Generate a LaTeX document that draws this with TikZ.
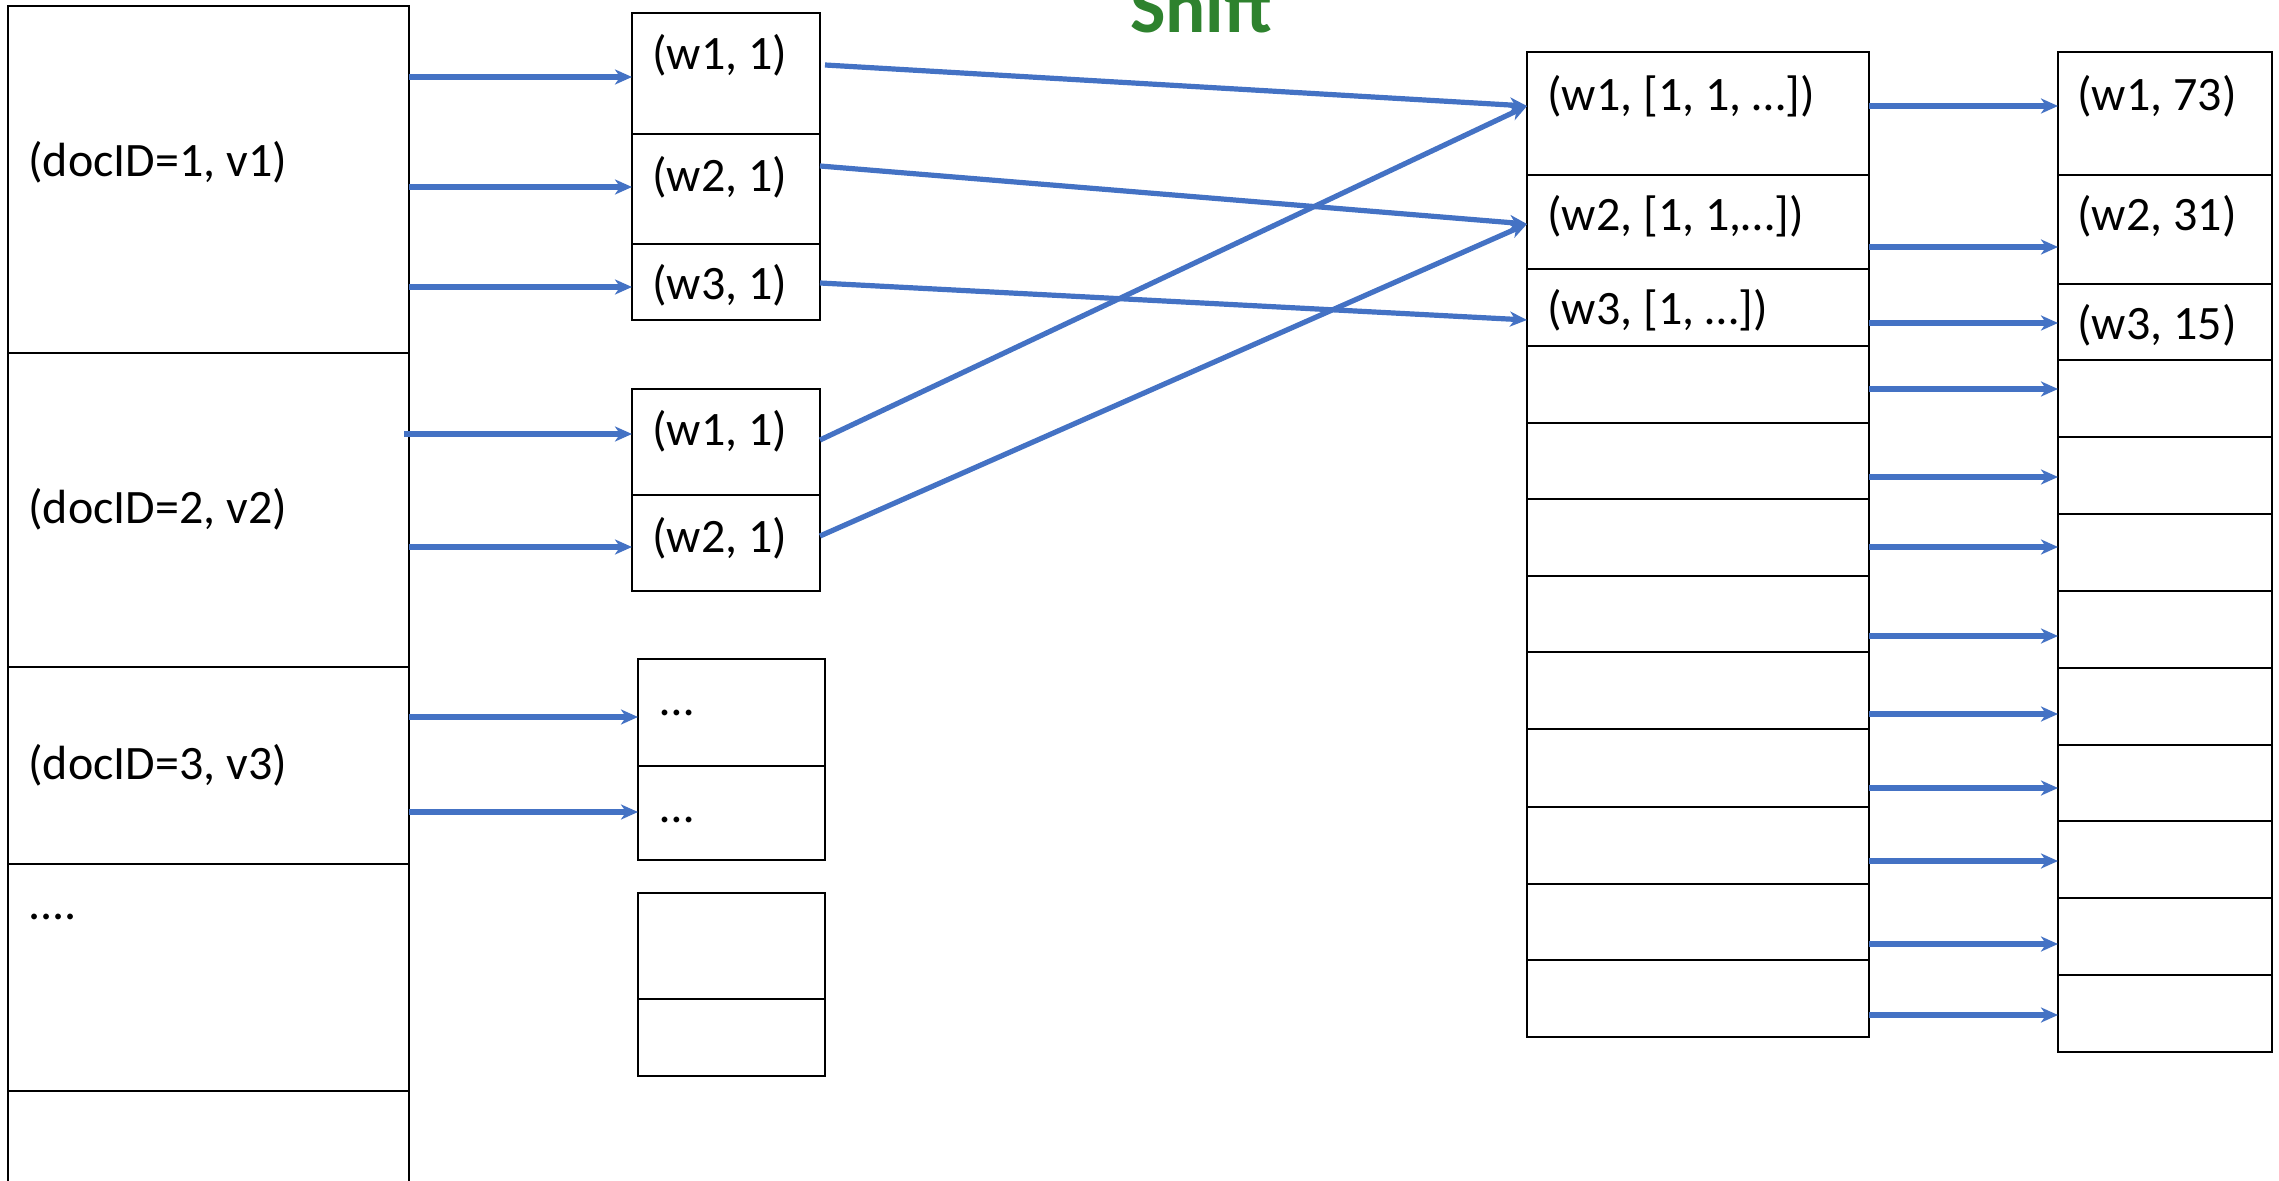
\documentclass[tikz,border=0pt]{standalone}
\usepackage{fontspec}
\setmainfont{Carlito}
\usetikzlibrary{arrows.meta,calc}
\definecolor{lineblue}{RGB}{68,114,196}
\definecolor{shiftgreen}{RGB}{46,130,46}
\tikzset{
  cellbox/.style={draw=black, line width=1.3pt, rectangle, inner sep=0pt, outer sep=0pt},
  celltext/.style={inner sep=0pt, anchor=west, font=\fontsize{24}{28}\selectfont},
  dotstext/.style={inner sep=0pt, anchor=base west, font=\fontsize{24}{28}\selectfont},
  arr/.style={draw=lineblue, line width=2.6pt, -{Stealth[length=8.5pt,width=7.5pt,inset=2.5pt]}},
  shiftlabel/.style={font=\fontsize{37.5}{42}\selectfont\bfseries, text=shiftgreen, inner sep=0pt, anchor=base},
}
\newcommand\mkcell[5]{\node[cellbox, minimum width={(#4-#2)*0.5pt}, minimum height={(#5-#3)*0.5pt}] (#1) at ({(#2+#4)/2},{(#3+#5)/2}) {};}
\begin{document}
\begin{tikzpicture}[x=0.5pt,y=-0.5pt]
\useasboundingbox (0,0) rectangle (2279,1181);
% left column
\mkcell{docA}{8}{6}{409}{353}
\mkcell{docB}{8}{353}{409}{667}
\mkcell{docC}{8}{667}{409}{864}
\mkcell{docD}{8}{864}{409}{1091}
\mkcell{docE}{8}{1091}{409}{1210}
\node[celltext] (tA) at (28,162) {(docID=1, v1)};
\node[celltext] (tB) at (28,509) {(docID=2, v2)};
\node[celltext] (tC) at (28,765) {(docID=3, v3)};
\node[dotstext] (tD) at (28,919) {....};
% group 1
\mkcell{g1a}{632}{13}{820}{134}
\mkcell{g1b}{632}{134}{820}{244}
\mkcell{g1c}{632}{244}{820}{320}
\node[celltext] (t1a) at (652,55) {(w1, 1)};
\node[celltext] (t1b) at (652,177) {(w2, 1)};
\node[celltext] (t1c) at (652,285) {(w3, 1)};
% group 2
\mkcell{g2a}{632}{389}{820}{495}
\mkcell{g2b}{632}{495}{820}{591}
\node[celltext] (t2a) at (652,431) {(w1, 1)};
\node[celltext] (t2b) at (652,538) {(w2, 1)};
% group 3
\mkcell{g3a}{638}{659}{825}{766}
\mkcell{g3b}{638}{766}{825}{860}
\node[dotstext] (t3a) at (660,715) {…};
\node[dotstext] (t3b) at (660,822) {…};
% group 4
\mkcell{g4a}{638}{893}{825}{999}
\mkcell{g4b}{638}{999}{825}{1076}
% middle column
\foreach \i/\a/\b in {1/52/175,2/175/269,3/269/346,4/346/423,5/423/499,6/499/576,7/576/652,8/652/729,9/729/807,10/807/884,11/884/960,12/960/1037}
  {\mkcell{m\i}{1527}{\a}{1869}{\b}}
\node[celltext] (tm1) at (1547,96) {(w1, [1, 1, …])};
\node[celltext] (tm2) at (1547,216) {(w2, [1, 1,…])};
\node[celltext] (tm3) at (1547,310) {(w3, [1, …])};
% right column
\foreach \i/\a/\b in {1/52/175,2/175/284,3/284/360,4/360/437,5/437/514,6/514/591,7/591/668,8/668/745,9/745/821,10/821/898,11/898/975,12/975/1052}
  {\mkcell{r\i}{2058}{\a}{2272}{\b}}
\node[celltext] (tr1) at (2077,96) {(w1, 73)};
\node[celltext] (tr2) at (2077,216) {(w2, 31)};
\node[celltext] (tr3) at (2077,325) {(w3, 15)};
% Shift label
\node[shiftlabel] (shift) at (1201,33) {Shift};
% left -> groups
\draw[arr] (docA.east |- 0,77) -- (g1a.west |- 0,77);
\draw[arr] (docA.east |- 0,187) -- (g1b.west |- 0,187);
\draw[arr] (docA.east |- 0,287) -- (g1c.west |- 0,287);
\draw[arr] ($(docB.east |- 0,434)+(-5,0)$) -- (g2a.west |- 0,434);
\draw[arr] (docB.east |- 0,547) -- (g2b.west |- 0,547);
\draw[arr] (docC.east |- 0,717) -- (g3a.west |- 0,717);
\draw[arr] (docC.east |- 0,812) -- (g3b.west |- 0,812);
% shift lines
\draw[arr] ($(g1a.east |- 0,65)+(5,0)$) -- (m1.west |- 0,106);
\draw[arr] (g1b.east |- 0,166) -- (m2.west |- 0,224);
\draw[arr] (g1c.east |- 0,283) -- (m3.west |- 0,320);
\draw[arr] (g2a.east |- 0,440) -- (m1.west |- 0,106);
\draw[arr] (g2b.east |- 0,536) -- (m2.west |- 0,224);
% middle -> right
\foreach \i/\y in {1/106,2/247,3/323,4/389,5/477,6/547,7/636,8/714,9/788,10/861,11/944,12/1015}
  {\draw[arr] (m\i.east |- 0,\y) -- (r\i.west |- 0,\y);}
\end{tikzpicture}
\end{document}
